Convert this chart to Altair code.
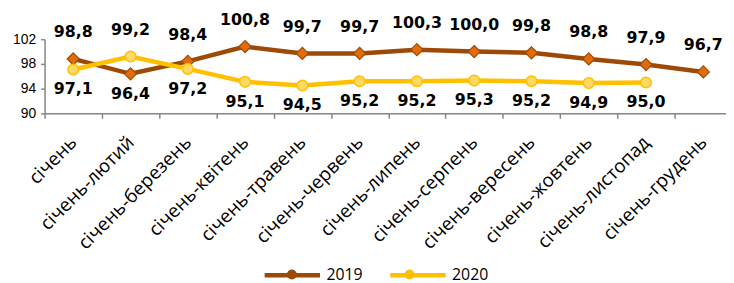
import altair as alt
import pandas as pd

categories = ["січень", "січень-лютий", "січень-березень", "січень-квітень",
              "січень-травень", "січень-червень", "січень-липень", "січень-серпень",
              "січень-вересень", "січень-жовтень", "січень-листопад", "січень-грудень"]
v2019 = [98.8, 96.4, 98.4, 100.8, 99.7, 99.7, 100.3, 100.0, 99.8, 98.8, 97.9, 96.7]
v2020 = [97.1, 99.2, 97.2, 95.1, 94.5, 95.2, 95.2, 95.3, 95.2, 94.9, 95.0]
series = ["2019", "2020"]
y_ticks = [90, 94, 98, 102]

line_colors = ["#9C4A06", "#FFC000"]
fill_colors = ["#E36C0A", "#FFD966"]

rows = []
for i, c in enumerate(categories):
    a = v2019[i]
    b = v2020[i] if i < len(v2020) else None
    rows.append(dict(cat=c, series="2019", value=a,
                     pos="above" if (b is None or a >= b) else "below"))
    if b is not None:
        rows.append(dict(cat=c, series="2020", value=b,
                         pos="above" if b > a else "below"))
df = pd.DataFrame(rows)
df["label"] = df["value"].map(lambda v: f"{v:.1f}".replace(".", ","))

x_enc = alt.X("cat:N", sort=categories, bandPosition=0.5,
              scale=alt.Scale(type="band", paddingInner=0, paddingOuter=0, range=[0, 695]),
              axis=alt.Axis(title=None, labelAngle=-45, labelAlign="right", labelBaseline="middle",
                            tickBand="extent", tickSize=5, labelPadding=21,
                            labelFont="Open Sans", labelFontSize=19, labelColor="#000000",
                            domainColor="#868686", tickColor="#868686", domainWidth=1.5,
                            tickWidth=1.5, labelOverlap=False))
y_enc = alt.Y("value:Q", scale=alt.Scale(domain=[90, 102], nice=False, zero=False),
              axis=alt.Axis(title=None, values=y_ticks, format="d", tickSize=4, labelPadding=5,
                            labelFont="Liberation Sans", labelFontSize=14, labelColor="#000000",
                            domainColor="#868686", tickColor="#868686", domainWidth=1.5,
                            tickWidth=1.5, grid=False))

color_scale = alt.Scale(domain=series, range=line_colors)

legend_lines = alt.Legend(title=None, orient="none", direction="horizontal",
                          legendX=220, legendY=208, symbolType="stroke", symbolSize=3136,
                          symbolStrokeWidth=4.5, labelFont="Open Sans", labelFontSize=16,
                          labelColor="#000000", labelOffset=4, columnPadding=18)
legend_marks = alt.Legend(title=None, orient="none", direction="horizontal",
                          legendX=220, legendY=230, symbolOffset=22, symbolStrokeWidth=0,
                          labelFont="Open Sans", labelFontSize=16, labelOpacity=0,
                          labelOffset=26, columnPadding=18)

base = alt.Chart(df)

lines = base.mark_line(strokeWidth=4.5).encode(
    x=x_enc, y=y_enc,
    color=alt.Color("series:N", scale=color_scale, legend=legend_lines),
)

# markers carrying the legend entries (covered by the styled markers below)
points_leg = base.mark_point(filled=True, opacity=1).encode(
    x=x_enc, y=y_enc,
    color=alt.Color("series:N", scale=color_scale, legend=legend_marks),
    shape=alt.Shape("series:N", scale=alt.Scale(domain=series, range=["diamond", "circle"]),
                    legend=legend_marks),
    size=alt.Size("series:N", scale=alt.Scale(domain=series, range=[100, 110]), legend=None),
)

points19 = base.transform_filter(alt.datum.series == series[0]).mark_point(
    shape="diamond", size=150, filled=True, opacity=1, strokeWidth=1.2,
    fill=fill_colors[0], stroke=line_colors[0]).encode(x=x_enc, y=y_enc)
points20 = base.transform_filter(alt.datum.series == series[1]).mark_point(
    shape="circle", size=115, filled=True, opacity=1, strokeWidth=1.5,
    fill=fill_colors[1], stroke=line_colors[1]).encode(x=x_enc, y=y_enc)

label_font = dict(font="DejaVu Sans", fontSize=16, fontWeight="bold", color="#000000", baseline="middle")
labels_above = base.transform_filter(alt.datum.pos == "above").mark_text(dy=-27, **label_font).encode(
    x=x_enc, y=y_enc, text="label:N")
labels_below = base.transform_filter(alt.datum.pos == "below").mark_text(dy=20, **label_font).encode(
    x=x_enc, y=y_enc, text="label:N")

chart = alt.layer(lines, points_leg, points19, points20, labels_above, labels_below).resolve_legend(
    color="independent"
).properties(
    width=689, height=75,
    autosize=alt.AutoSizeParams(type="none"),
    padding={"left": 37, "top": 30, "right": 0, "bottom": 170},
).configure_view(stroke=None)

chart.save("out.html", embed_options={"renderer": "svg", "actions": False})
